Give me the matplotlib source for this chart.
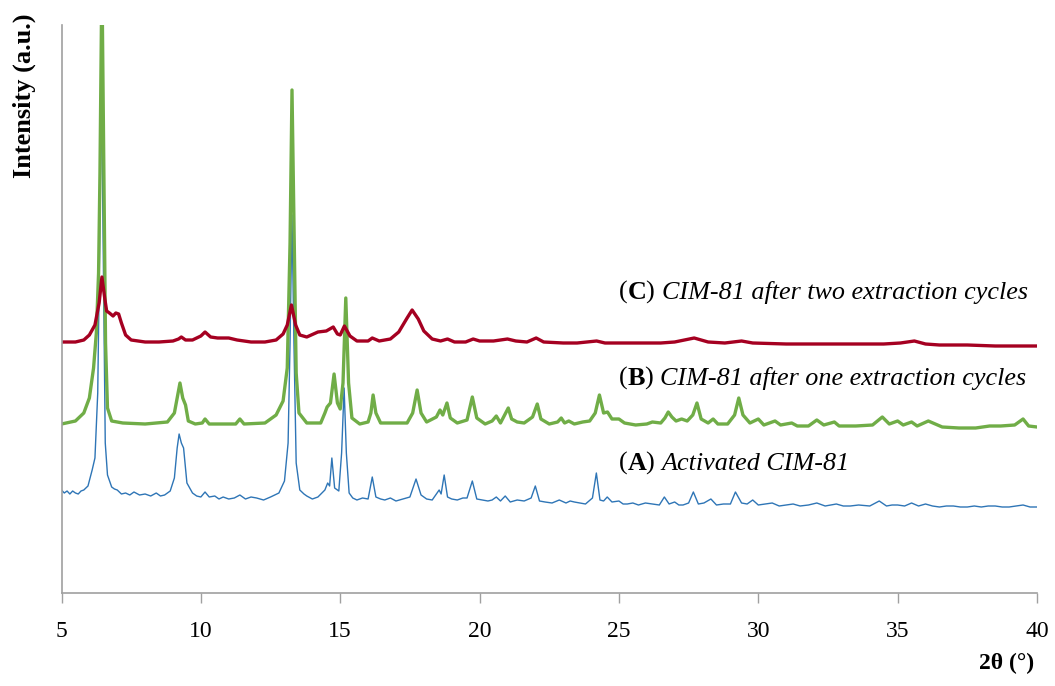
import matplotlib
matplotlib.use("Agg")
import matplotlib.pyplot as plt

# ---------------- data (2θ in degrees, intensity in a.u.) ----------------
x_ticks = [5, 10, 15, 20, 25, 30, 35, 40]

# (C) CIM-81 after two extraction cycles
c_points = [
    (5.0, 251), (5.5, 251), (5.8, 253), (6.0, 258), (6.2, 268), (6.35, 290),
    (6.45, 316), (6.55, 295), (6.62, 282), (6.72, 280), (6.85, 277), (6.95, 280),
    (7.05, 279), (7.15, 270), (7.3, 258), (7.5, 253), (8.0, 251), (8.5, 251),
    (9.0, 252), (9.2, 254), (9.3, 256), (9.45, 253), (9.7, 253), (10.0, 257),
    (10.15, 261), (10.35, 256), (10.6, 255), (11.0, 255), (11.3, 253), (11.8, 251),
    (12.3, 251), (12.7, 253), (12.95, 259), (13.1, 268), (13.25, 288), (13.4, 268),
    (13.55, 258), (13.8, 256), (14.2, 261), (14.5, 262), (14.75, 266), (14.9, 259),
    (15.0, 258), (15.15, 267), (15.35, 257), (15.6, 252), (16.0, 252), (16.15, 255),
    (16.4, 252), (16.8, 254), (17.1, 261), (17.4, 275), (17.58, 283), (17.8, 274),
    (18.0, 262), (18.3, 254), (18.6, 252), (18.85, 254), (19.1, 251), (19.5, 251),
    (19.77, 254), (20.0, 252), (20.5, 252), (21.0, 254), (21.3, 252), (21.7, 251),
    (22.03, 255), (22.3, 251), (23.0, 250), (23.5, 250), (24.2, 252), (24.5, 250),
    (25.5, 250), (26.5, 250), (27.0, 251), (27.7, 255), (28.2, 251), (28.8, 250),
    (29.4, 252), (29.8, 250), (31.0, 249), (32.0, 249), (33.0, 249), (34.5, 249),
    (35.1, 250), (35.6, 252), (36.0, 249), (36.5, 248), (37.5, 248), (38.5, 247),
    (40.0, 247),
]

# (B) CIM-81 after one extraction cycles
b_points = [
    (5.0, 169), (5.5, 172), (5.8, 180), (6.0, 195), (6.15, 225), (6.25, 260),
    (6.33, 320), (6.38, 420), (6.45, 620), (6.52, 420), (6.58, 250), (6.65, 185),
    (6.8, 172), (7.2, 170), (8.0, 169), (8.8, 171), (9.05, 180), (9.15, 195),
    (9.25, 210), (9.35, 195), (9.45, 188), (9.55, 172), (9.8, 169), (10.05, 170),
    (10.15, 174), (10.3, 169), (11.25, 169), (11.4, 174), (11.55, 169), (12.3, 170),
    (12.7, 178), (12.95, 192), (13.1, 225), (13.2, 350), (13.27, 503), (13.35, 350),
    (13.42, 220), (13.52, 180), (13.8, 170), (14.3, 170), (14.45, 180), (14.53, 186),
    (14.65, 190), (14.78, 219), (14.9, 190), (15.0, 184), (15.1, 210), (15.2, 295),
    (15.3, 210), (15.42, 175), (15.7, 169), (16.0, 171), (16.1, 180), (16.18, 198),
    (16.28, 180), (16.45, 170), (17.4, 170), (17.6, 180), (17.76, 203), (17.9, 180),
    (18.1, 171), (18.45, 176), (18.58, 183), (18.68, 178), (18.83, 190), (18.95, 175),
    (19.2, 170), (19.55, 173), (19.74, 196), (19.9, 175), (20.2, 169), (20.45, 172),
    (20.6, 177), (20.75, 170), (20.9, 178), (21.03, 185), (21.15, 174), (21.35, 171),
    (21.6, 170), (21.9, 176), (22.07, 189), (22.2, 174), (22.5, 169), (22.8, 171),
    (22.93, 175), (23.05, 170), (23.2, 172), (23.4, 169), (23.7, 171), (23.95, 172),
    (24.15, 180), (24.3, 198), (24.45, 180), (24.59, 181), (24.75, 174), (25.0, 174),
    (25.2, 170), (25.6, 168), (26.0, 169), (26.2, 171), (26.5, 170), (26.65, 175),
    (26.77, 181), (26.9, 176), (27.05, 172), (27.25, 174), (27.45, 172), (27.65, 178),
    (27.8, 190), (27.95, 174), (28.2, 170), (28.38, 174), (28.55, 169), (28.9, 169),
    (29.15, 178), (29.3, 195), (29.45, 178), (29.7, 170), (30.0, 174), (30.2, 168),
    (30.6, 172), (30.8, 168), (31.2, 170), (31.4, 167), (31.8, 167), (32.1, 173),
    (32.35, 168), (32.73, 171), (32.9, 167), (33.5, 167), (34.1, 168), (34.45, 176),
    (34.7, 169), (35.0, 172), (35.2, 168), (35.5, 171), (35.7, 167), (36.1, 172),
    (36.35, 169), (36.6, 166), (37.2, 165), (37.8, 165), (38.3, 167), (38.7, 167),
    (39.2, 168), (39.5, 174), (39.7, 167), (40.0, 166),
]

# (A) Activated CIM-81
a_points = [
    (5.0, 103), (5.1, 100), (5.2, 102), (5.3, 99), (5.4, 102), (5.5, 100),
    (5.6, 99), (5.7, 102), (5.8, 103), (5.95, 107), (6.1, 123), (6.2, 135),
    (6.3, 200), (6.37, 350), (6.43, 520), (6.5, 330), (6.57, 150), (6.65, 118),
    (6.8, 106), (6.9, 104), (7.0, 103), (7.15, 99), (7.3, 100), (7.45, 98),
    (7.6, 101), (7.8, 98), (8.0, 99), (8.2, 97), (8.4, 100), (8.55, 97),
    (8.7, 98), (8.9, 102), (9.05, 115), (9.15, 145), (9.22, 159), (9.3, 150),
    (9.38, 145), (9.5, 110), (9.7, 100), (9.85, 97), (10.0, 96), (10.15, 101),
    (10.3, 96), (10.5, 97), (10.65, 94), (10.8, 96), (11.0, 94), (11.2, 95),
    (11.4, 98), (11.6, 94), (11.8, 96), (12.0, 95), (12.25, 93), (12.5, 96),
    (12.8, 100), (13.0, 112), (13.13, 150), (13.2, 250), (13.27, 378), (13.34, 250),
    (13.42, 130), (13.55, 103), (13.7, 99), (13.8, 97), (14.0, 94), (14.2, 96),
    (14.45, 103), (14.55, 110), (14.62, 107), (14.7, 135), (14.8, 105), (14.95, 102),
    (15.05, 140), (15.14, 205), (15.22, 140), (15.32, 100), (15.45, 95), (15.6, 93),
    (15.8, 95), (16.0, 94), (16.15, 116), (16.28, 96), (16.45, 94), (16.6, 93),
    (16.8, 95), (17.0, 92), (17.25, 94), (17.5, 96), (17.72, 114), (17.9, 98),
    (18.1, 94), (18.3, 93), (18.55, 103), (18.62, 99), (18.73, 118), (18.85, 96),
    (19.0, 94), (19.2, 93), (19.4, 95), (19.55, 95), (19.74, 112), (19.9, 94),
    (20.1, 93), (20.3, 92), (20.45, 93), (20.6, 96), (20.75, 92), (20.92, 97),
    (21.1, 91), (21.35, 93), (21.6, 92), (21.85, 95), (22.0, 107), (22.15, 92),
    (22.35, 91), (22.6, 90), (22.86, 93), (23.1, 90), (23.25, 92), (23.4, 91),
    (23.6, 90), (23.8, 89), (24.05, 95), (24.19, 120), (24.32, 93), (24.45, 92),
    (24.58, 96), (24.75, 91), (25.0, 92), (25.15, 89), (25.3, 89), (25.5, 90),
    (25.7, 88), (25.95, 90), (26.2, 89), (26.45, 88), (26.63, 96), (26.8, 89),
    (27.0, 91), (27.15, 88), (27.3, 88), (27.5, 90), (27.67, 101), (27.85, 89),
    (28.05, 90), (28.3, 94), (28.5, 88), (28.75, 89), (29.0, 89), (29.18, 101),
    (29.4, 90), (29.6, 89), (29.8, 93), (30.0, 88), (30.25, 89), (30.5, 90),
    (30.75, 87), (31.0, 88), (31.25, 89), (31.5, 87), (31.8, 88), (32.1, 90),
    (32.4, 87), (32.6, 88), (32.8, 89), (33.05, 87), (33.3, 87), (33.6, 88),
    (34.0, 87), (34.34, 92), (34.6, 87), (34.8, 88), (35.0, 88), (35.25, 87),
    (35.5, 90), (35.75, 87), (36.0, 89), (36.25, 87), (36.5, 86), (36.75, 87),
    (37.0, 87), (37.25, 86), (37.5, 86), (37.75, 87), (38.0, 86), (38.25, 87),
    (38.5, 87), (38.75, 86), (39.0, 86), (39.25, 87), (39.5, 88), (39.75, 86),
    (40.0, 86),
]

a_x, a_y = zip(*a_points)
b_x, b_y = zip(*b_points)
c_x, c_y = zip(*c_points)

label_c = "CIM-81 after two extraction cycles"
label_b = "CIM-81 after one extraction cycles"
label_a = "Activated CIM-81"
label_pos = [("C", label_c, 25.0, 301), ("B", label_b, 25.0, 215), ("A", label_a, 25.0, 130)]

# ---------------- figure ----------------
FONT = "Liberation Serif"
fig = plt.figure(figsize=(10.55, 6.86), dpi=100)
ax = fig.add_axes([61.5 / 1055, 1 - 593 / 686, (1037 - 61.5) / 1055, (593 - 25) / 686])

ax.plot(a_x, a_y, color="#2E75B6", lw=1.0, solid_joinstyle="round")
ax.plot(b_x, b_y, color="#70AD47", lw=2.4, solid_joinstyle="round")
ax.plot(c_x, c_y, color="#A50021", lw=2.4, solid_joinstyle="round")

ax.set_xlim(5, 40)
ax.set_ylim(0, 568)
ax.set_xticks(x_ticks)
ax.set_xticklabels([str(t) for t in x_ticks], fontfamily=FONT, fontsize=17)
ax.set_yticks([])

for s in ["top", "right"]:
    ax.spines[s].set_visible(False)
for s in ["left", "bottom"]:
    ax.spines[s].set_color("#A0A0A0")
    ax.spines[s].set_linewidth(1.2)
ax.tick_params(axis="x", direction="out", length=7, width=1.0, color="#A0A0A0", pad=13)

# series labels: "(" + bold letter + ")" + italic text
for letter, txt, lx, ly in label_pos:
    t1 = ax.text(lx, ly, "(", fontfamily=FONT, fontsize=18.8, va="center", ha="left")
    t2 = ax.annotate(letter, xy=(1, 0), xycoords=t1, va="bottom", ha="left",
                     fontfamily=FONT, fontsize=18.8, fontweight="bold")
    t3 = ax.annotate(") ", xy=(1, 0), xycoords=t2, va="bottom", ha="left",
                     fontfamily=FONT, fontsize=18.8)
    ax.annotate(txt, xy=(1, 0), xycoords=t3, va="bottom", ha="left",
                fontfamily=FONT, fontsize=18.8, fontstyle="italic")

fig.text(24 / 1055, 1 - 13 / 686, "Intensity (a.u.)", rotation=90, ha="center", va="top",
         fontfamily=FONT, fontsize=19, fontweight="bold")
fig.text(1034 / 1055, 1 - 663 / 686, "2θ (°)", ha="right", va="center",
         fontfamily=FONT, fontsize=17, fontweight="bold")

fig.savefig("out.png", dpi=100)
